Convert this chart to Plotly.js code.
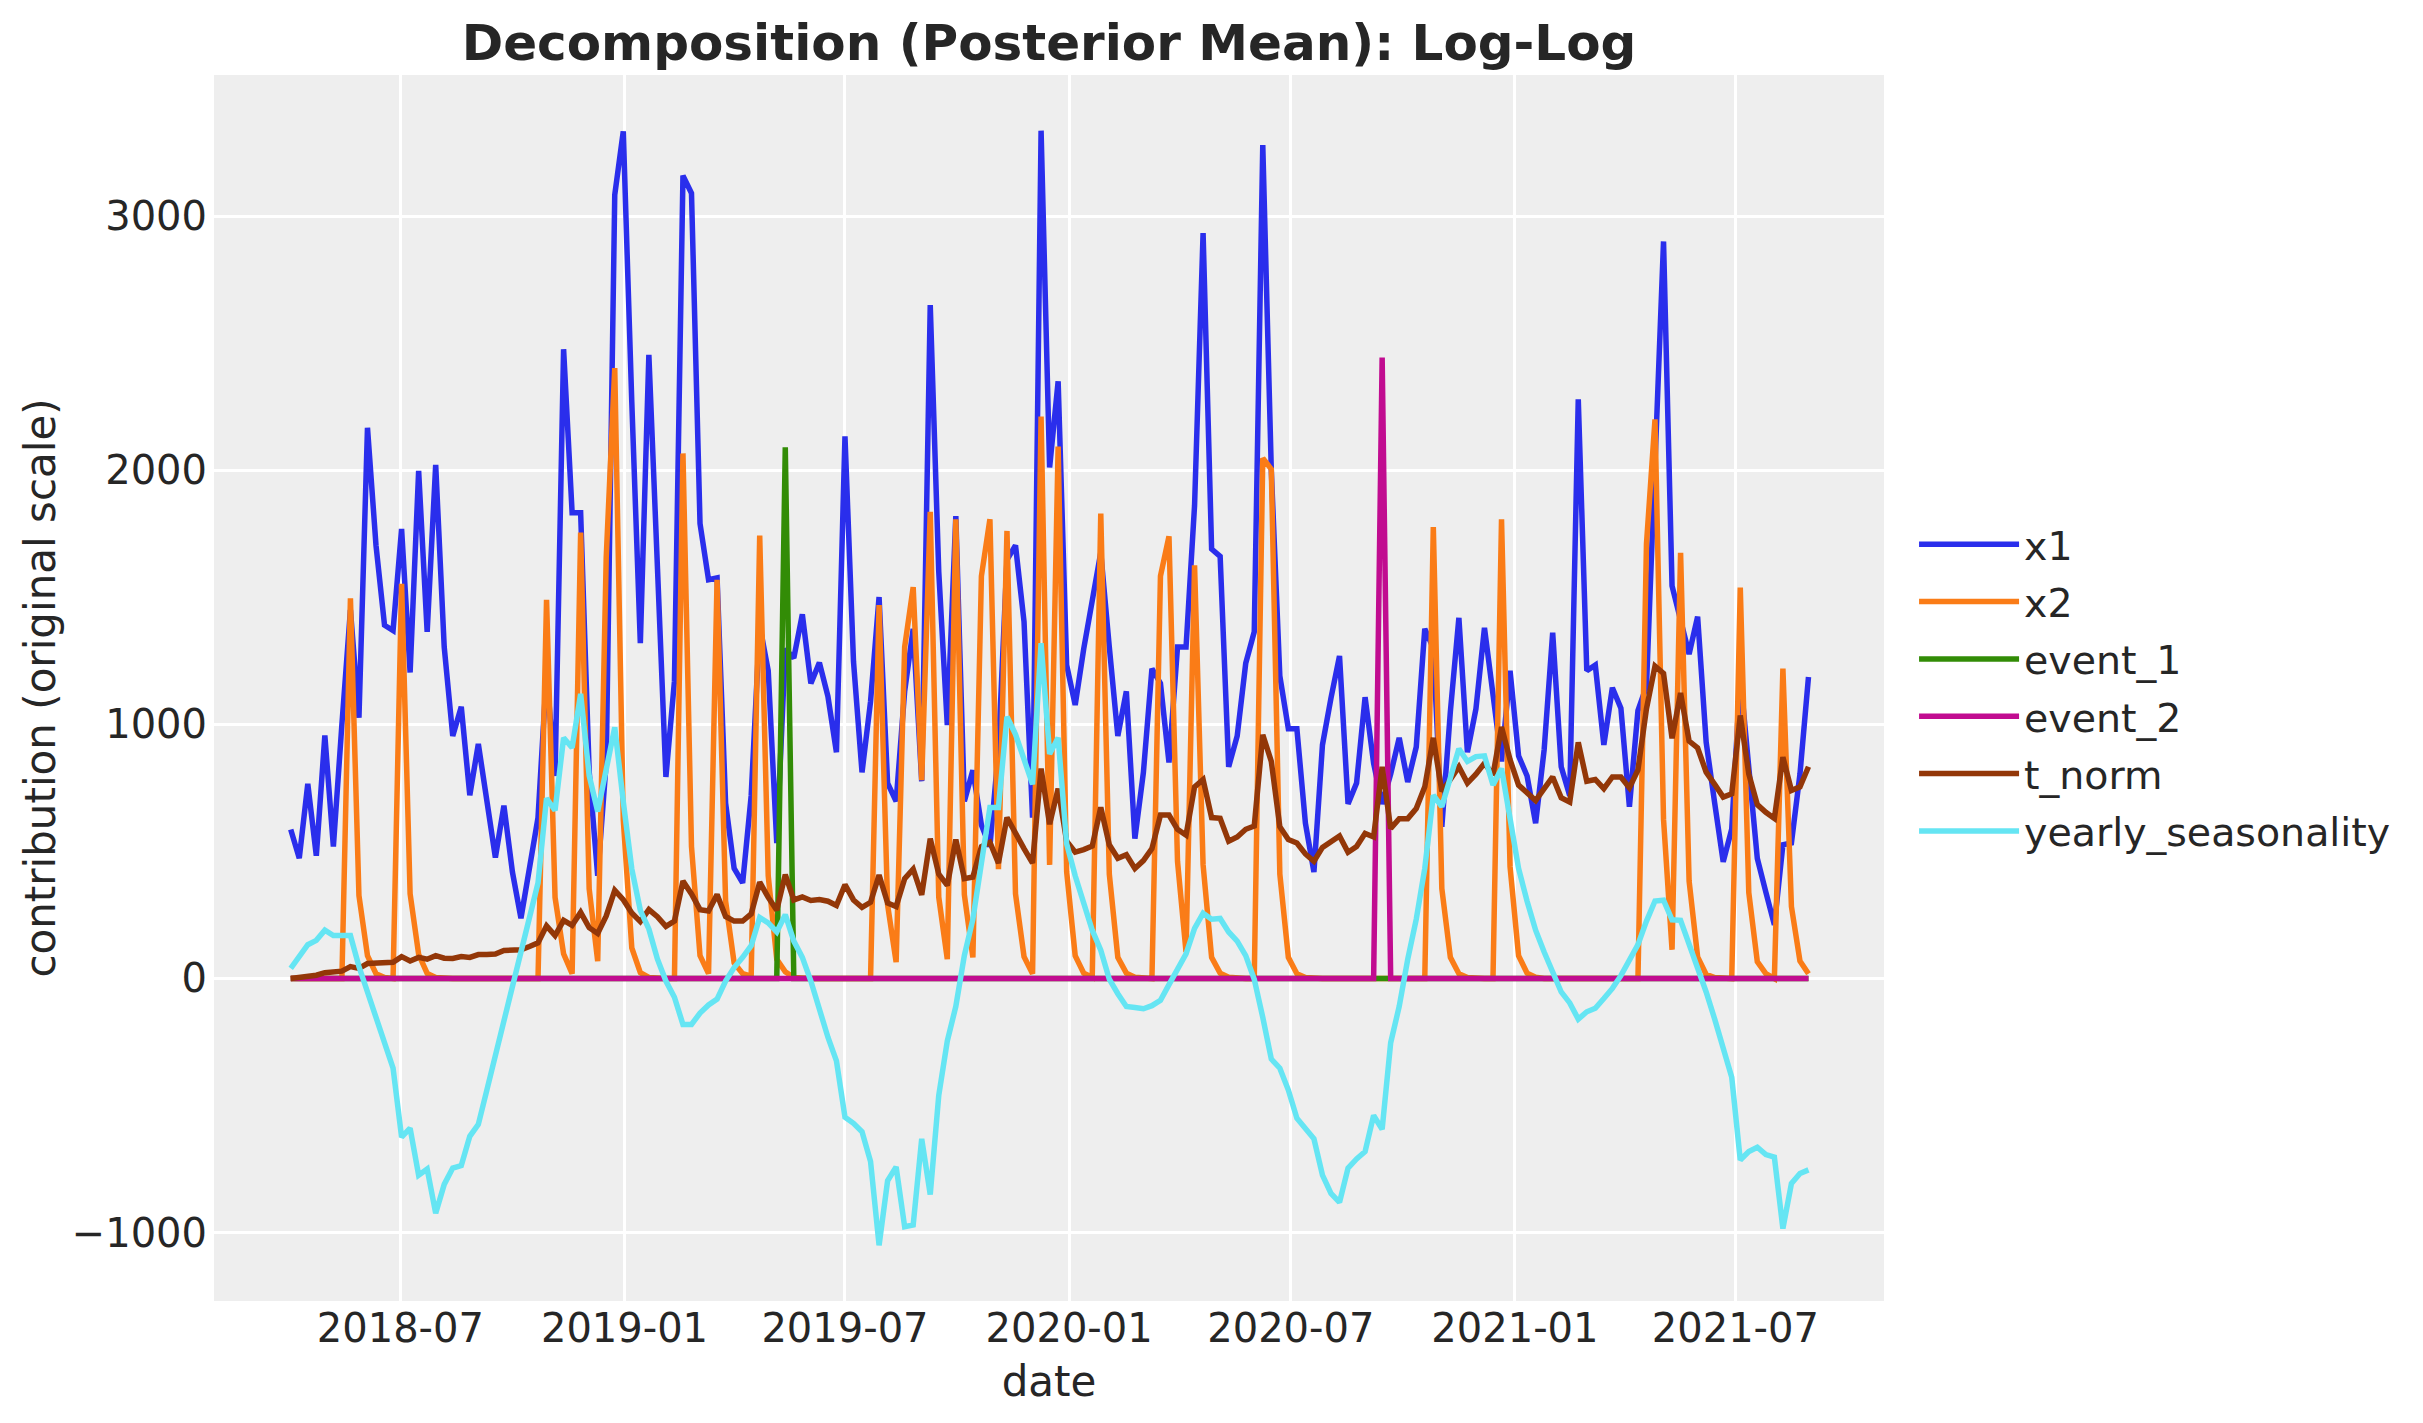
<!DOCTYPE html>
<html>
<head>
<meta charset="utf-8">
<script src="https://cdn.plot.ly/plotly-3.0.1.min.js"></script>
<style>html,body{margin:0;padding:0;background:#fff;}#chart{width:2423px;height:1423px;}</style>
</head>
<body>
<div id="chart"></div>
<script>
var startDate = "2018-04-02";
var nWeeks = 179;

var x1 = [
586,473,766,483,956,519,1000,1450,1026,2167,
1704,1390,1369,1769,1204,1997,1364,2021,1304,954,
1069,721,923,700,476,680,419,237,433,633,
1200,797,2476,1833,1833,815,404,850,3083,3333,
2267,1319,2454,1615,793,1170,3159,3090,1790,1569,
1576,690,433,376,719,1390,1211,533,1297,1261,
1433,1161,1243,1110,890,2133,1247,811,1090,1501,
769,697,1130,1376,776,2650,1600,997,1819,697,
819,604,519,900,1647,1704,1404,633,3336,2011,
2350,1233,1076,1297,1476,1676,1304,954,1130,550,
811,1219,1161,850,1304,1304,1861,2933,1690,1661,
833,954,1240,1364,3279,2000,1190,983,983,611,
419,919,1104,1269,687,769,1107,847,687,804,
947,773,911,1376,1300,597,1050,1419,890,1061,
1380,1110,854,1211,876,797,611,900,1361,833,
719,2279,1211,1233,919,1144,1064,676,1054,1150,
2050,2900,1545,1420,1276,1424,930,690,459,588,
1191,830,472,340,211,526,533,804,1186
];

var x2 = [
0,0,0,0,0,0,0,1496,326,90,
19,4,0,1553,333,95,20,4,0,0,
0,0,0,0,0,0,0,0,0,0,
1490,319,97,19,1755,353,68,1657,2402,625,
120,23,4,0,0,0,2066,519,90,19,
1569,304,61,19,9,1743,404,76,26,4,
0,0,0,0,0,0,0,0,0,1469,
290,64,1304,1540,780,1836,320,76,1807,330,
83,1583,1807,430,1761,333,86,19,2211,447,
2093,420,90,21,5,1829,411,83,21,5,
0,0,1583,1740,461,104,1626,447,83,21,
5,0,0,0,2047,2004,411,83,19,4,
0,0,0,0,0,0,0,0,0,0,
0,0,0,0,1776,354,83,19,4,0,
0,0,1807,440,90,21,5,0,0,0,
0,0,0,0,0,0,0,0,0,1710,
2200,626,113,1675,383,85,16,4,0,0,
1538,338,66,19,0,1219,283,69,19
];

var event_1 = [
0,0,0,0,0,0,0,0,0,0,
0,0,0,0,0,0,0,0,0,0,
0,0,0,0,0,0,0,0,0,0,
0,0,0,0,0,0,0,0,0,0,
0,0,0,0,0,0,0,0,0,0,
0,0,0,0,0,0,0,0,2090,0,
0,0,0,0,0,0,0,0,0,0,
0,0,0,0,0,0,0,0,0,0,
0,0,0,0,0,0,0,0,0,0,
0,0,0,0,0,0,0,0,0,0,
0,0,0,0,0,0,0,0,0,0,
0,0,0,0,0,0,0,0,0,0,
0,0,0,0,0,0,0,0,0,0,
0,0,0,0,0,0,0,0,0,0,
0,0,0,0,0,0,0,0,0,0,
0,0,0,0,0,0,0,0,0,0,
0,0,0,0,0,0,0,0,0,0,
0,0,0,0,0,0,0,0,0
];

var event_2 = [
0,0,0,0,0,0,0,0,0,0,
0,0,0,0,0,0,0,0,0,0,
0,0,0,0,0,0,0,0,0,0,
0,0,0,0,0,0,0,0,0,0,
0,0,0,0,0,0,0,0,0,0,
0,0,0,0,0,0,0,0,0,0,
0,0,0,0,0,0,0,0,0,0,
0,0,0,0,0,0,0,0,0,0,
0,0,0,0,0,0,0,0,0,0,
0,0,0,0,0,0,0,0,0,0,
0,0,0,0,0,0,0,0,0,0,
0,0,0,0,0,0,0,0,0,0,
0,0,0,0,0,0,0,0,2443,0,
0,0,0,0,0,0,0,0,0,0,
0,0,0,0,0,0,0,0,0,0,
0,0,0,0,0,0,0,0,0,0,
0,0,0,0,0,0,0,0,0,0,
0,0,0,0,0,0,0,0,0
];

var t_norm = [
0,4,9,13,23,26,29,47,40,59,
61,63,64,86,69,83,76,90,80,79,
86,83,94,94,96,110,110,113,126,140,
207,169,229,209,260,200,177,246,347,310,
258,224,271,243,205,226,383,333,271,266,
330,244,226,226,254,379,319,269,409,309,
321,307,311,304,287,369,309,280,300,407,
297,283,393,430,329,550,411,366,547,393,
399,519,536,454,633,569,511,454,826,607,
747,540,497,507,521,673,526,473,487,433,
464,511,643,643,587,564,754,783,633,630,
540,557,587,600,959,854,597,547,533,490,
461,516,540,561,497,519,571,557,833,590,
629,629,669,754,947,736,783,833,769,804,
847,801,990,861,761,733,700,747,793,711,
694,929,776,783,747,793,793,750,821,1062,
1229,1200,945,1123,934,907,812,764,714,727,
1035,805,684,654,630,871,740,754,833
];

var yearly_seasonality = [
40,83,133,150,190,169,169,169,47,-53,
-153,-253,-353,-624,-589,-774,-750,-924,-810,-746,
-736,-621,-574,-439,-303,-181,-39,104,233,376,
709,661,947,908,1120,799,657,825,988,696,
431,268,195,77,-10,-74,-181,-181,-136,-104,
-81,-10,43,83,129,240,219,183,251,147,
83,-10,-124,-231,-324,-546,-570,-603,-720,-1050,
-796,-741,-977,-970,-631,-850,-460,-246,-110,90,
233,461,673,673,1030,961,861,764,1319,883,
947,530,404,290,190,111,-3,-60,-110,-114,
-119,-107,-86,-24,40,97,197,257,233,236,
183,147,90,-3,-153,-317,-353,-439,-550,-589,
-631,-774,-846,-881,-746,-710,-681,-539,-593,-253,
-110,76,233,433,721,676,790,904,854,873,
876,761,826,619,433,304,190,104,19,-53,
-96,-160,-131,-117,-79,-39,11,69,133,226,
305,308,231,229,140,44,-53,-160,-267,-389,
-714,-681,-664,-693,-703,-984,-807,-767,-753
];

var seriesNames = ["x1","x2","event_1","event_2","t_norm","yearly_seasonality"];
var seriesColors = ["#2a2eec","#fa7c17","#328c06","#c10c90","#933708","#65e5f3"];
var yTickValues = [-1000,0,1000,2000,3000];
var xTickStart = "2018-07-01";

// weekly date index (Mondays)
var dates = [];
(function(){
  var d0 = new Date(startDate + "T00:00:00Z");
  for (var i = 0; i < nWeeks; i++) {
    var d = new Date(d0.getTime() + i * 7 * 86400000);
    dates.push(d.toISOString().slice(0,10));
  }
})();

var allSeries = [x1, x2, event_1, event_2, t_norm, yearly_seasonality];
var traces = allSeries.map(function(vals, i){
  return {
    x: dates, y: vals, type: "scatter", mode: "lines",
    name: seriesNames[i],
    legendgroup: seriesNames[i],
    line: {color: seriesColors[i], width: 5.5},
    hoverinfo: "x+y+name"
  };
});

var layout = {
  width: 2423, height: 1423,
  paper_bgcolor: "#ffffff",
  plot_bgcolor: "#eeeeee",
  margin: {l: 214, r: 539, t: 75, b: 122, pad: 0},
  font: {family: "DejaVu Sans, sans-serif", size: 40, color: "#262626"},
  title: {
    text: "<b>Decomposition (Posterior Mean): Log-Log</b>",
    font: {size: 50, color: "#262626"},
    x: 0.5, xref: "paper", xanchor: "center",
    y: 0.97, yref: "container", yanchor: "middle"
  },
  xaxis: {
    type: "date",
    range: ["2018-01-29", "2021-10-31"],
    tick0: xTickStart, dtick: "M6", tickformat: "%Y-%m",
    showgrid: true, gridcolor: "#ffffff", gridwidth: 2.5,
    zeroline: false, showline: false, ticks: "",
    tickfont: {size: 40},
    title: {text: "date", font: {size: 42}, standoff: 16}
  },
  yaxis: {
    range: [-1269, 3555],
    tickvals: yTickValues,
    showgrid: true, gridcolor: "#ffffff", gridwidth: 2.5,
    zeroline: false, showline: false, ticks: "",
    ticklabelstandoff: 6,
    tickfont: {size: 40},
    title: {text: "contribution (original scale)", font: {size: 42}, standoff: 2}
  },
  showlegend: true,
  legend: {
    x: 1.018, xanchor: "left", y: 0.5, yanchor: "middle",
    font: {size: 39.5}, bgcolor: "rgba(0,0,0,0)",
    traceorder: "grouped", tracegroupgap: 3, itemwidth: 100
  }
};

Plotly.newPlot("chart", traces, layout, {displayModeBar: false, responsive: false});
</script>
</body>
</html>
